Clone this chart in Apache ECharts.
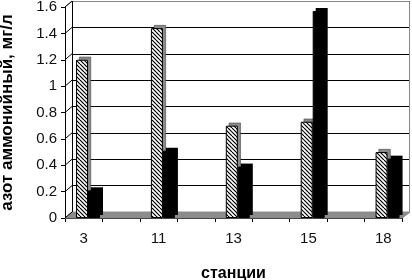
<!DOCTYPE html>
<html>
<head>
<meta charset="utf-8">
<script src="https://cdn.jsdelivr.net/npm/echarts@6/dist/echarts.min.js"></script>
<style>
html,body{margin:0;padding:0;background:#fff;}
#c{width:412px;height:280px;}
</style>
</head>
<body>
<div id="c"></div>
<script>
// ---- data ----
var categories = ['3', '', '11', '', '13', '', '15', '', '18'];
var hatchedValues = [1.2, null, 1.44, null, 0.7, null, 0.73, null, 0.5];
var blackValues = [0.21, null, 0.51, null, 0.39, null, 1.57, null, 0.45];
var yTicks = [0, 0.2, 0.4, 0.6, 0.8, 1, 1.2, 1.4, 1.6];
var yTitle = 'азот аммонийный, мг/л';
var xTitle = 'станции';

// ---- hatch pattern ----
var pc = document.createElement('canvas');
pc.width = 8; pc.height = 8;
var g = pc.getContext('2d');
g.fillStyle = '#fff'; g.fillRect(0, 0, 8, 8);
g.strokeStyle = '#000'; g.lineWidth = 1.2;
for (var k = -8; k <= 8; k += 4) {
  g.beginPath(); g.moveTo(k, 0); g.lineTo(k + 8, 8); g.stroke();
}
var hatch = { image: pc, repeat: 'repeat' };

var F = 'Liberation Sans, Arial, sans-serif';
var chart = echarts.init(document.getElementById('c'), null, { renderer: 'canvas' });

// geometry of the pseudo-3D box
var front = { left: 65, right: 10, top: 7, bottom: 62 };
var back = { left: 72, right: 2, top: 1, bottom: 68 };
var barG = { left: 69.3, right: 5.7, top: 7, bottom: 62 };
var depthG = { left: 72.3, right: 2.7, top: 4, bottom: 65 };

function mkGrid(o) {
  return { left: o.left, right: o.right, top: o.top, bottom: o.bottom,
    containLabel: false, outerBoundsMode: 'none' };
}
function valAxis(idx, extra) {
  var a = { type: 'value', gridIndex: idx, min: 0, max: 1.6, interval: 0.2,
    axisLine: { show: false }, axisTick: { show: false }, axisLabel: { show: false },
    splitLine: { show: false } };
  for (var k in extra) a[k] = extra[k];
  return a;
}
function catAxis(idx, extra) {
  var a = { type: 'category', gridIndex: idx, data: categories,
    axisLine: { show: false }, axisTick: { show: false }, axisLabel: { show: false } };
  for (var k in extra) a[k] = extra[k];
  return a;
}

var W = 412, H = 280;
var fx0 = front.left, fx1 = W - front.right, fy0 = front.top, fy1 = H - front.bottom;
var bx0 = back.left, bx1 = W - back.right, by0 = back.top, by1 = H - back.bottom;

var option = {
  animation: false,
  backgroundColor: '#fff',
  grid: [mkGrid(front), mkGrid(back), mkGrid(depthG), mkGrid(barG)],
  xAxis: [
    catAxis(0, {
      boundaryGap: true,
      axisLine: { show: true, lineStyle: { color: '#000', width: 1 } },
      axisTick: { show: true, alignWithLabel: false, length: 4, interval: 0, lineStyle: { color: '#000' } },
      axisLabel: { show: true, interval: 0, margin: 13, color: '#111', fontFamily: F, fontSize: 15 },
      name: xTitle, nameLocation: 'middle', nameGap: 48,
      nameTextStyle: { fontFamily: F, fontSize: 16, fontWeight: 'bold', color: '#000' }
    }),
    catAxis(1),
    catAxis(2),
    catAxis(3)
  ],
  yAxis: [
    valAxis(0, {
      axisLine: { show: true, lineStyle: { color: '#000', width: 1 } },
      axisTick: { show: true, length: 4, lineStyle: { color: '#000' } },
      axisLabel: { show: true, margin: 8, color: '#111', fontFamily: F, fontSize: 15,
        formatter: function (v) { return yTicks.indexOf(+v.toFixed(1)) >= 0 ? String(+v.toFixed(1)) : ''; } },
      name: yTitle, nameLocation: 'middle', nameGap: 49, nameRotate: 90,
      nameTextStyle: { fontFamily: F, fontSize: 17, fontWeight: 'bold', color: '#000' }
    }),
    valAxis(1, { splitLine: { show: true, lineStyle: { color: '#000', width: 1 } } }),
    valAxis(2),
    valAxis(3)
  ],
  graphic: [
    // floor
    { type: 'polygon', z: 1, shape: { points: [[fx0, fy1], [fx1, fy1], [bx1, by1], [bx0, by1]] },
      style: { fill: '#8c8c8c', stroke: '#8c8c8c' } },
    // back wall frame
    { type: 'polyline', z: 1, shape: { points: [[bx0 + 0.5, by1], [bx0 + 0.5, by0 + 0.5], [bx1 - 0.5, by0 + 0.5], [bx1 - 0.5, by1]] },
      style: { stroke: '#8a8a8a', fill: null, lineWidth: 1 } },
    { type: 'line', z: 1, shape: { x1: bx0 + 0.5, y1: by1, x2: bx0 + 0.5, y2: by0 }, style: { stroke: '#000', lineWidth: 1 } },
    // left wall top edge
    { type: 'line', z: 1, shape: { x1: fx0, y1: fy0, x2: bx0, y2: by0 + 0.5 }, style: { stroke: '#8a8a8a', lineWidth: 1 } },
    // floor right edge
    { type: 'line', z: 1, shape: { x1: fx1, y1: fy1, x2: bx1, y2: by1 }, style: { stroke: '#8a8a8a', lineWidth: 1 } }
  ],
  series: [
    // side-wall gridline connectors
    { type: 'custom', xAxisIndex: 0, yAxisIndex: 0, z: 1, silent: true,
      data: yTicks.map(function (v) { return [0, v]; }),
      renderItem: function (params, api) {
        var p = api.coord([0, api.value(1)]);
        var x0 = params.coordSys.x;
        return { type: 'line', shape: { x1: x0, y1: p[1], x2: x0 + (bx0 - fx0), y2: p[1] - (fy0 - by0) },
          style: { stroke: '#000', lineWidth: 1 } };
      } },
    // depth faces
    { type: 'bar', xAxisIndex: 2, yAxisIndex: 2, data: hatchedValues, barWidth: 12, barGap: '0%', z: 2,
      itemStyle: { color: '#8a8a8a', borderColor: '#333', borderWidth: 0.5 } },
    { type: 'bar', xAxisIndex: 2, yAxisIndex: 2, data: blackValues, barWidth: 12, barGap: '0%', z: 2,
      itemStyle: { color: '#000' } },
    // front faces
    { type: 'bar', xAxisIndex: 3, yAxisIndex: 3, data: hatchedValues, barWidth: 12, barGap: '0%', z: 3,
      itemStyle: { color: hatch, borderColor: '#000', borderWidth: 1 } },
    { type: 'bar', xAxisIndex: 3, yAxisIndex: 3, data: blackValues, barWidth: 12, barGap: '0%', z: 3,
      itemStyle: { color: '#000', borderColor: '#000', borderWidth: 1 } }
  ]
};
chart.setOption(option);
</script>
</body>
</html>
